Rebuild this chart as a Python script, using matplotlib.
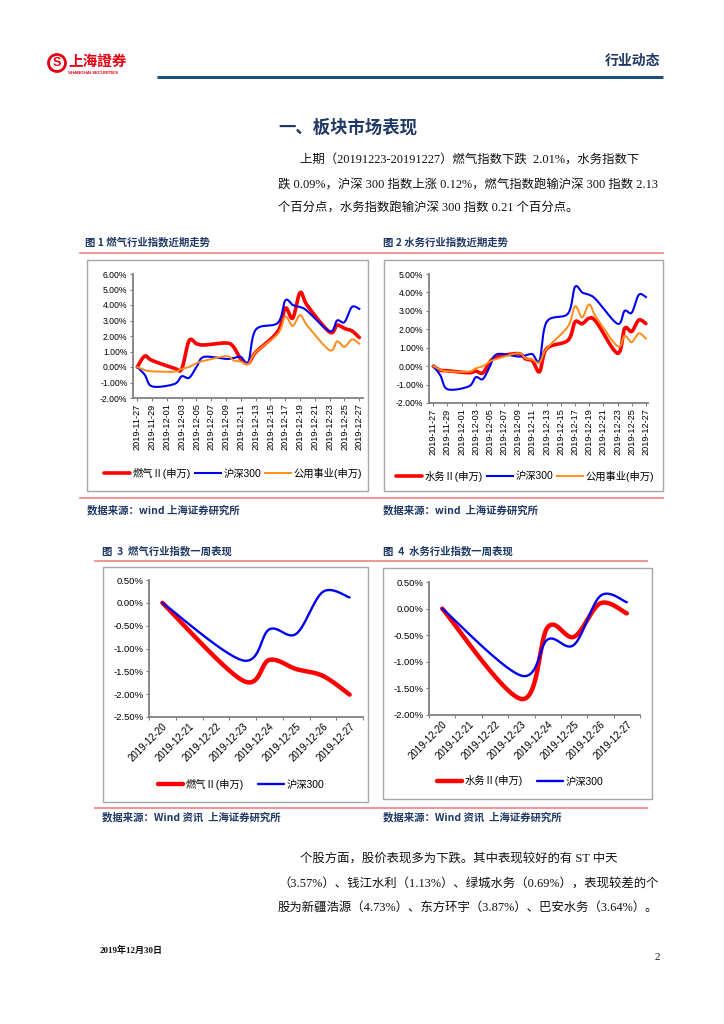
import numpy as np
import pandas as pd
import matplotlib
matplotlib.use("Agg")
import matplotlib.pyplot as plt
import matplotlib.ticker as mticker
from matplotlib.patches import Rectangle, Circle

plt.rcParams['font.family'] = ['Liberation Sans', 'Noto Sans CJK SC', 'DejaVu Sans']

# ---- data: recent trend (Fig 1 / Fig 2), cumulative % change ----
dates_month = ['2019-11-27', '2019-11-28', '2019-11-29', '2019-12-02', '2019-12-03',
               '2019-12-04', '2019-12-05', '2019-12-06', '2019-12-09', '2019-12-10',
               '2019-12-11', '2019-12-12', '2019-12-13', '2019-12-16', '2019-12-17',
               '2019-12-18', '2019-12-19', '2019-12-20', '2019-12-23', '2019-12-24',
               '2019-12-25', '2019-12-26', '2019-12-27']
gas_month = [0.0, 0.70, 0.42, -0.08, -0.12, 1.70, 1.50, 1.42, 1.55, 1.30, 0.50, 0.25,
             0.95, 2.30, 3.80, 3.15, 4.80, 3.95, 2.25, 2.70, 2.48, 2.33, 1.90]
water_month = [0.0, -0.22, -0.25, -0.36, -0.27, -0.37, 0.23, 0.50, 0.68, 0.40, 0.28, -0.30,
               0.95, 1.40, 2.40, 2.30, 2.60, 2.40, 0.70, 2.05, 1.88, 2.50, 2.31]
hs300_month = [0.0, -0.50, -1.25, -1.10, -0.60, -0.70, 0.00, 0.65, 0.52, 0.58, 0.65, 0.30,
               2.40, 2.85, 4.30, 4.00, 3.87, 3.60, 2.30, 3.00, 2.90, 3.87, 3.75]
util_month = [0.0, -0.20, -0.28, -0.30, -0.12, 0.00, 0.25, 0.40, 0.70, 0.43, 0.35, 0.20,
              0.95, 2.15, 3.25, 2.65, 3.35, 2.65, 1.08, 1.65, 1.30, 1.78, 1.50]

# ---- data: one-week performance (Fig 3 / Fig 4) ----
week_labels = ['2019-12-20', '2019-12-21', '2019-12-22', '2019-12-23',
               '2019-12-24', '2019-12-25', '2019-12-26', '2019-12-27']
dates_week = ['2019-12-20', '2019-12-23', '2019-12-24', '2019-12-25', '2019-12-26', '2019-12-27']
gas_week = [0.0, -1.70, -1.25, -1.45, -1.60, -2.01]
water_week = [0.0, -1.70, -0.35, -0.53, 0.10, -0.09]
hs300_week = [0.0, -1.26, -0.58, -0.68, 0.24, 0.12]

RED = '#FF0000'
BLUE = '#0000F0'
ORANGE = '#FF8C1A'
NAVY = '#1F3864'
PINK = '#F08080'
W, H = 724, 1024


def rect(x0, y0, x1, y1):
    return [x0 / W, 1 - y1 / H, (x1 - x0) / W, (y1 - y0) / H]


def smooth(x, y, n=24):
    # Catmull-Rom curve through the points (like Excel's smoothed line)
    p = np.column_stack([x, y]).astype(float)
    p = np.vstack([p[0], p, p[-1]])
    out = []
    t = np.linspace(0, 1, n)[:, None]
    for i in range(1, len(p) - 2):
        p0, p1, p2, p3 = p[i - 1], p[i], p[i + 1], p[i + 2]
        seg = 0.5 * ((2 * p1) + (-p0 + p2) * t + (2 * p0 - 5 * p1 + 4 * p2 - p3) * t ** 2
                     + (-p0 + 3 * p1 - 3 * p2 + p3) * t ** 3)
        out.append(seg)
    c = np.vstack(out)
    return c[:, 0], c[:, 1]


def style_axes(ax, ylo, yhi, ystep, ysize):
    for s in ['top', 'right']:
        ax.spines[s].set_visible(False)
    for s in ['left', 'bottom']:
        ax.spines[s].set_color('#808080')
        ax.spines[s].set_linewidth(1.3)
    ax.set_ylim(ylo, yhi)
    ax.set_yticks(np.arange(ylo, yhi + 1e-9, ystep))
    ax.yaxis.set_major_formatter(mticker.FuncFormatter(lambda v, _: f'{v:.2f}%'))
    ax.tick_params(axis='both', direction='out', length=2.5, width=0.8, color='#808080', pad=1.5)
    ax.tick_params(axis='y', labelsize=ysize)
    ax.set_facecolor('none')


def leg(ax, fig, cx, cy, spacing):
    ax.legend(loc='center', bbox_to_anchor=(cx / W, 1 - cy / H), bbox_transform=fig.transFigure,
              ncol=3, frameon=False, fontsize=7.4, handlelength=2.5, handletextpad=0.25,
              columnspacing=spacing, borderpad=0)


fig = plt.figure(figsize=(7.24, 10.24), dpi=100)
bg = fig.add_axes([0, 0, 1, 1])
bg.set_xlim(0, W)
bg.set_ylim(H, 0)
bg.axis('off')

# ---- header ----
bg.add_patch(Circle((57, 63), 8.5, fill=False, ec='#E60012', lw=2))
bg.text(57, 63.5, 'S', color='#E60012', fontsize=9, fontweight='bold', ha='center', va='center')
bg.text(68, 61, '上海證券', color='#E60012', fontsize=10.5, fontweight='bold', va='center',
        family=['Noto Sans CJK SC'])
bg.text(68, 72.5, 'SHANGHAI SECURITIES', color='#E60012', fontsize=3.2, fontweight='bold', va='center')
bg.text(660, 61, '行业动态', color=NAVY, fontsize=10, fontweight='bold', ha='right', va='center',
        family=['Noto Sans CJK SC'])
bg.plot([157, 663], [77, 77], color='#1F4E79', lw=2.2, solid_capstyle='butt')

body = ['Liberation Serif', 'Noto Sans CJK SC']
bg.text(278, 128, '一、板块市场表现', color=NAVY, fontsize=12.5, fontweight='bold', va='center',
        family=['Noto Sans CJK SC'])
para1 = ['上期（20191223-20191227）燃气指数下跌  2.01%，水务指数下',
         '跌 0.09%，沪深 300 指数上涨 0.12%，燃气指数跑输沪深 300 指数 2.13',
         '个百分点，水务指数跑输沪深 300 指数 0.21 个百分点。']
for i, (line, y) in enumerate(zip(para1, [160, 185, 208])):
    bg.text(300 if i == 0 else 278, y, line, fontsize=8.9, va='center', color='#111111', family=body)

para2 = ['个股方面，股价表现多为下跌。其中表现较好的有 ST 中天',
         '（3.57%）、钱江水利（1.13%）、绿城水务（0.69%），表现较差的个',
         '股为新疆浩源（4.73%）、东方环宇（3.87%）、巴安水务（3.64%）。']
for i, (line, y) in enumerate(zip(para2, [860, 885, 908])):
    bg.text(300 if i == 0 else 278, y, line, fontsize=8.9, va='center', color='#111111', family=body)

bg.text(100, 950, '2019年12月30日', fontsize=6.5, fontweight='bold', va='center', color='#111111',
        family=body)
bg.text(655, 958, '2', fontsize=8, va='center', color='#111111', family=body)

# ---- captions, rules, frames ----
cap_kw = dict(color=NAVY, fontsize=7.5, fontweight='bold', va='center', family=['Noto Sans CJK SC'])
bg.text(85, 242, '图 1 燃气行业指数近期走势', **cap_kw)
bg.text(383, 242, '图 2 水务行业指数近期走势', **cap_kw)
bg.plot([80, 663], [252.5, 252.5], color=PINK, lw=1.2)
bg.plot([80, 663], [497.5, 497.5], color=PINK, lw=1.2)
bg.text(87, 510, '数据来源：wind 上海证券研究所', **cap_kw)
bg.text(383, 510, '数据来源：wind  上海证券研究所', **cap_kw)

bg.text(102, 551, '图  3  燃气行业指数一周表现', **cap_kw)
bg.text(383, 551, '图  4  水务行业指数一周表现', **cap_kw)
bg.plot([95, 647], [561, 561], color=PINK, lw=1.2)
bg.plot([95, 647], [808, 808], color=PINK, lw=1.2)
bg.text(102, 817, '数据来源：Wind 资讯  上海证券研究所', **cap_kw)
bg.text(383, 817, '数据来源：Wind 资讯  上海证券研究所', **cap_kw)

for (x0, y0, x1, y1) in [(87, 260, 368, 491), (384, 260, 663, 491),
                         (103, 567, 368, 802), (383, 568, 652, 799)]:
    bg.add_patch(Rectangle((x0, y0), x1 - x0, y1 - y0, fill=False, ec='#A6A6A6', lw=1.0))

# ---- Fig 1 / Fig 2 ----
d0 = pd.Timestamp(dates_month[0])
xm = np.array([(pd.Timestamp(d) - d0).days for d in dates_month])
tick_dates = pd.date_range(dates_month[0], dates_month[-1], freq='2D')
tick_x = [(d - d0).days for d in tick_dates]
tick_lab = [d.strftime('%Y-%m-%d') for d in tick_dates]

ax1 = fig.add_axes(rect(133, 274, 363, 398))
ax1.plot(*smooth(xm, gas_month), color=RED, lw=2.6, label='燃气Ⅱ(申万)', solid_capstyle='round')
ax1.plot(*smooth(xm, hs300_month), color=BLUE, lw=1.5, label='沪深300')
ax1.plot(*smooth(xm, util_month), color=ORANGE, lw=1.4, label='公用事业(申万)')
style_axes(ax1, -2, 6, 1, 6.2)
ax1.set_xlim(-0.58, 30.5)
ax1.set_xticks(tick_x)
ax1.set_xticklabels(tick_lab, rotation=90, fontsize=6.6)
leg(ax1, fig, 233, 473, 0.4)

ax2 = fig.add_axes(rect(429, 274, 648, 403))
ax2.plot(*smooth(xm, water_month), color=RED, lw=2.6, label='水务Ⅱ(申万)', solid_capstyle='round')
ax2.plot(*smooth(xm, hs300_month), color=BLUE, lw=1.5, label='沪深300')
ax2.plot(*smooth(xm, util_month), color=ORANGE, lw=1.4, label='公用事业(申万)')
style_axes(ax2, -2, 5, 1, 6.2)
ax2.set_xlim(-0.6, 30.3)
ax2.set_xticks(tick_x)
ax2.set_xticklabels(tick_lab, rotation=90, fontsize=6.6)
leg(ax2, fig, 525, 476, 0.4)

# ---- Fig 3 / Fig 4 ----
w0 = pd.Timestamp(week_labels[0])
xw = np.array([(pd.Timestamp(d) - w0).days for d in dates_week])
wx = [(pd.Timestamp(d) - w0).days for d in week_labels]

ax3 = fig.add_axes(rect(149, 580, 363, 717))
ax3.plot(*smooth(xw, gas_week), color=RED, lw=3.2, label='燃气Ⅱ(申万)', solid_capstyle='round')
ax3.plot(*smooth(xw, hs300_week), color=BLUE, lw=1.7, label='沪深300', solid_capstyle='round')
style_axes(ax3, -2.5, 0.5, 0.5, 6.8)
ax3.set_xlim(-0.5, 7.5)
ax3.set_xticks([v - 0.5 for v in wx] + [7.5])
ax3.set_xticklabels([''] * 9)
ax3.set_xticks(wx, minor=True)
ax3.set_xticklabels(week_labels, minor=True, rotation=45, ha='right', rotation_mode='anchor',
                    fontsize=7)
ax3.tick_params(axis='x', which='minor', length=0, pad=3)
leg(ax3, fig, 241, 784, 1.4)

ax4 = fig.add_axes(rect(429, 582, 640, 715))
ax4.plot(*smooth(xw, water_week), color=RED, lw=3.2, label='水务Ⅱ(申万)', solid_capstyle='round')
ax4.plot(*smooth(xw, hs300_week), color=BLUE, lw=1.7, label='沪深300', solid_capstyle='round')
style_axes(ax4, -2.0, 0.5, 0.5, 6.8)
ax4.set_xlim(-0.5, 7.5)
ax4.set_xticks([v - 0.5 for v in wx] + [7.5])
ax4.set_xticklabels([''] * 9)
ax4.set_xticks(wx, minor=True)
ax4.set_xticklabels(week_labels, minor=True, rotation=45, ha='right', rotation_mode='anchor',
                    fontsize=7)
ax4.tick_params(axis='x', which='minor', length=0, pad=3)
leg(ax4, fig, 520, 781, 1.4)

fig.savefig('out.png', dpi=100)
